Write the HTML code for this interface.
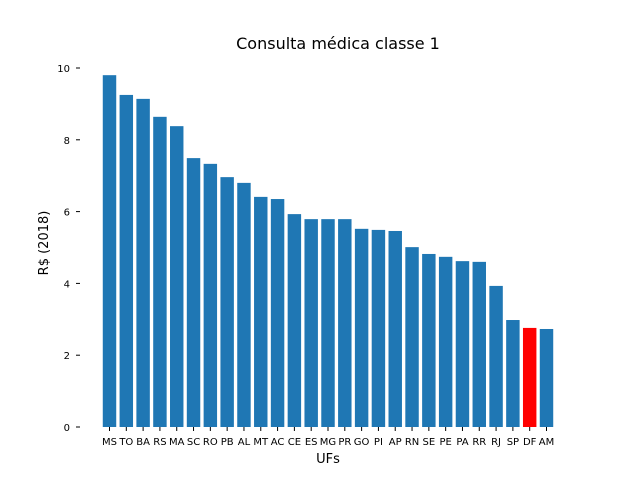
<!DOCTYPE html>
<html><head><meta charset="utf-8"><style>
body{margin:0;background:#fff;}
svg{display:block;font-family:"DejaVu Sans","Liberation Sans",sans-serif;}
</style></head><body>
<svg id="chart" width="640" height="480">
<text x="338" y="49" text-anchor="middle" font-size="16">Consulta médica classe 1</text>
<text x="328" y="463" text-anchor="middle" font-size="13">UFs</text>
<text transform="translate(48,243) rotate(-90)" text-anchor="middle" font-size="13">R$ (2018)</text>
<g id="bars"></g><g id="xt"></g><g id="yt"></g>
</svg>
<script>
const categories=["MS","TO","BA","RS","MA","SC","RO","PB","AL","MT","AC","CE","ES","MG","PR","GO","PI","AP","RN","SE","PE","PA","RR","RJ","SP","DF","AM"];
const values=[9.80,9.25,9.14,8.64,8.38,7.49,7.33,6.96,6.80,6.41,6.35,5.93,5.79,5.79,5.79,5.52,5.49,5.46,5.01,4.82,4.74,4.62,4.60,3.93,2.98,2.76,2.73];
const highlight=["DF"];
const yTicks=[0,2,4,6,8,10];
const NS="http://www.w3.org/2000/svg";
const y0=427,yTop=68,yMax=10;
function yScale(v){return y0-(y0-yTop)*v/yMax;}
const step=(546.5-109.5)/(categories.length-1);
function xScale(i){return 109.5+i*step;}
const bw=step*0.8;
const bars=document.getElementById('bars'),xt=document.getElementById('xt'),yt=document.getElementById('yt');
categories.forEach((c,i)=>{
  const r=document.createElementNS(NS,'rect');
  r.setAttribute('x',xScale(i)-bw/2);r.setAttribute('y',yScale(values[i]));
  r.setAttribute('width',bw);r.setAttribute('height',y0-yScale(values[i]));
  r.setAttribute('fill',highlight.includes(c)?'#ff0000':'#1f77b4');
  
  
  bars.appendChild(r);
  const t=document.createElementNS(NS,'line');
  t.setAttribute('x1',xScale(i));t.setAttribute('x2',xScale(i));t.setAttribute('y1',y0);t.setAttribute('y2',y0+4);t.setAttribute('stroke','#000');
  xt.appendChild(t);
  const l=document.createElementNS(NS,'text');
  l.setAttribute('x',xScale(i));l.setAttribute('y',y0+18);l.setAttribute('text-anchor','middle');l.setAttribute('font-size','10');
  l.textContent=c;
  
  
  xt.appendChild(l);
});
yTicks.forEach(v=>{
  const t=document.createElementNS(NS,'line');
  t.setAttribute('x1',76);t.setAttribute('x2',80);t.setAttribute('y1',yScale(v));t.setAttribute('y2',yScale(v));t.setAttribute('stroke','#000');
  yt.appendChild(t);
  const l=document.createElementNS(NS,'text');
  l.setAttribute('x',70);l.setAttribute('y',yScale(v)+4);l.setAttribute('text-anchor','end');l.setAttribute('font-size','10');
  l.textContent=v;
  
  
  yt.appendChild(l);
});
</script>
</body></html>
